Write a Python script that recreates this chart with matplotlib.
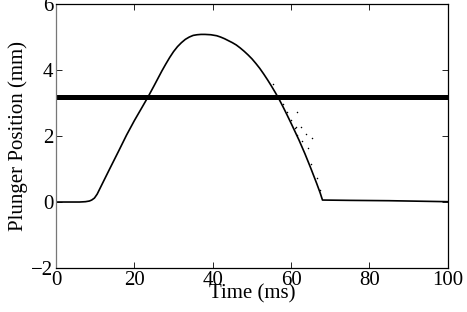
import matplotlib
matplotlib.use("Agg")
import matplotlib.pyplot as plt

plt.rcParams['font.family'] = ['Liberation Serif', 'DejaVu Serif']

time_ms = [0, 3, 6, 7.5, 8.5, 9.1, 9.8, 10.5, 12, 13.8, 16, 18.0, 20, 22, 23.5,
           25, 27.0, 28, 29, 30, 31, 32, 33, 34, 35, 36, 37, 38, 39.5, 41, 42,
           43, 44, 45, 46, 47, 48, 49, 50, 51, 52, 53, 54, 55, 56, 57, 58, 59,
           60.1, 62, 63.5, 65, 66.5, 67.4, 68.0, 75, 85, 95, 100]
position_mm = [0.0, 0.0, 0.0, 0.01, 0.03, 0.06, 0.12, 0.24, 0.6, 1.03, 1.55, 2.03,
               2.47, 2.88, 3.19, 3.52, 3.97, 4.18, 4.38, 4.56, 4.71, 4.83, 4.93,
               5.00, 5.05, 5.07, 5.08, 5.08, 5.07, 5.04, 5.00, 4.95, 4.89, 4.83,
               4.76, 4.67, 4.57, 4.46, 4.34, 4.20, 4.05, 3.88, 3.70, 3.51, 3.31,
               3.10, 2.87, 2.63, 2.36, 1.88, 1.47, 1.03, 0.57, 0.28, 0.06, 0.05,
               0.04, 0.02, 0.01]

threshold_mm = 3.18

scatter_t = [55.3, 57.8, 58.9, 59.9, 61.4, 61.1, 61.2, 62.5, 61.6, 63.8, 65.2,
             62.9, 64.2, 65.0, 66.5, 67.3]
scatter_y = [3.58, 2.97, 2.74, 2.48, 2.74, 2.25, 2.26, 2.26, 2.03, 2.06, 1.93,
             1.85, 1.65, 1.15, 0.72, 0.36]

xticks = [0, 20, 40, 60, 80, 100]
yticks = [-2, 0, 2, 4, 6]

fig = plt.figure(figsize=(4.67, 3.12), dpi=100)
ax = fig.add_axes([0.12, 0.141, 0.839, 0.846])

ax.axhline(threshold_mm, color='black', lw=3.6)
ax.plot(time_ms, position_mm, color='black', lw=1.2)
ax.scatter(scatter_t, scatter_y, s=1.2, color='black', lw=0)

ax.set_xlim(0, 100)
ax.set_ylim(-2, 6)
ax.set_xticks(xticks)
ax.set_yticks(yticks)
ax.set_xticklabels([str(v) for v in xticks])
ax.set_yticklabels(['\u22122' if v == -2 else str(v) for v in yticks])
ax.tick_params(direction='in', top=True, right=True, labelsize=15, length=4,
               width=0.6, pad=2)
for s in ax.spines.values():
    s.set_linewidth(0.9)
ax.spines['left'].set_color('#777777')

ax.set_xlabel('Time (ms)', fontsize=15, labelpad=-4)
ax.set_ylabel('Plunger Position (mm)', fontsize=15, labelpad=2)

fig.savefig('out.png', dpi=100)
